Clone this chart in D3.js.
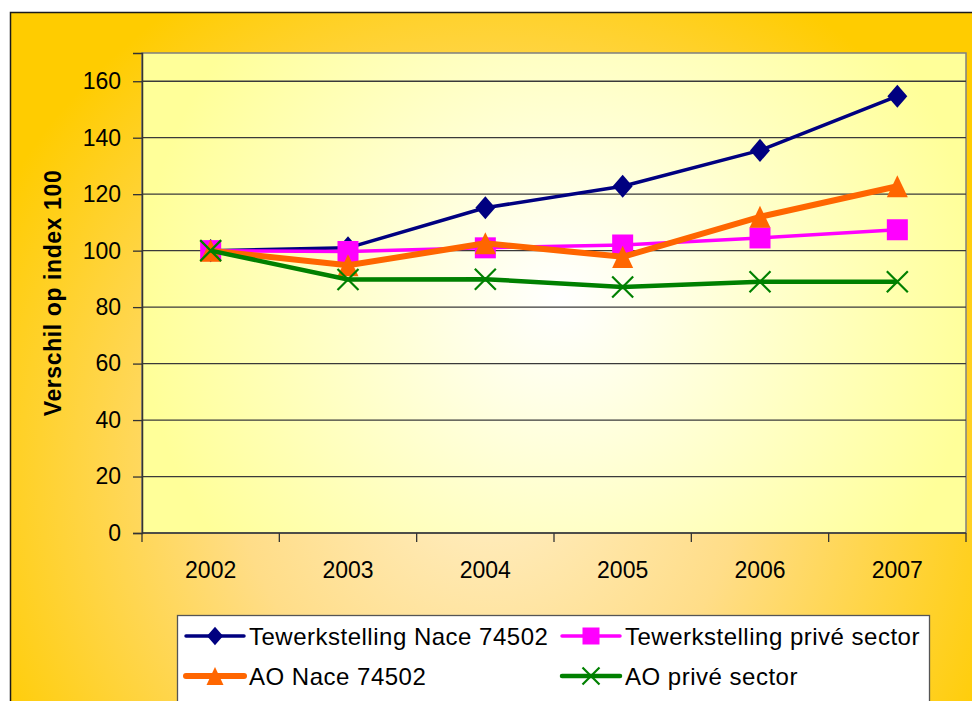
<!DOCTYPE html>
<html>
<head>
<meta charset="utf-8">
<script src="https://cdn.jsdelivr.net/npm/d3@7/dist/d3.min.js"></script>
<style>
  html, body { margin: 0; padding: 0; background: #ffffff; }
  svg { display: block; }
  text { font-family: "Liberation Sans", Arial, sans-serif; fill: #000; }
</style>
</head>
<body>
<svg id="chart" width="972" height="701"></svg>
<script>
// ---- data ----
const years = ["2002", "2003", "2004", "2005", "2006", "2007"];
const tewerkNace = [100, 101, 115.2, 122.8, 135.5, 154.7];
const tewerkPrive = [100, 99.7, 101, 102, 104.5, 107.4];
const aoNace = [100, 94.8, 102.6, 97.8, 112, 122.8];
const aoPrive = [100, 89.8, 89.9, 87.1, 89, 89];
const yTicks = [0, 20, 40, 60, 80, 100, 120, 140, 160];
const seriesNames = ["Tewerkstelling Nace 74502", "Tewerkstelling privé sector", "AO Nace 74502", "AO privé sector"];
const yTitle = "Verschil op index 100";

const series = [
  { name: seriesNames[0], values: tewerkNace, color: "#000080", width: 3.5, marker: "diamond" },
  { name: seriesNames[1], values: tewerkPrive, color: "#FF00FF", width: 3.5, marker: "square" },
  { name: seriesNames[2], values: aoNace, color: "#FF6600", width: 6, marker: "triangle" },
  { name: seriesNames[3], values: aoPrive, color: "#008000", width: 4.5, marker: "cross" }
];

(function () {
const svg = d3.select("#chart");
const defs = svg.append("defs");

const outerGrad = defs.append("radialGradient").attr("id", "outerGrad")
  .attr("gradientUnits", "userSpaceOnUse")
  .attr("cx", 490).attr("cy", 470).attr("r", 560);
outerGrad.append("stop").attr("offset", "0%").attr("stop-color", "#FFEFC8");
outerGrad.append("stop").attr("offset", "45%").attr("stop-color", "#FFDD88");
outerGrad.append("stop").attr("offset", "100%").attr("stop-color", "#FFCC00");

const plotGrad = defs.append("radialGradient").attr("id", "plotGrad")
  .attr("gradientUnits", "userSpaceOnUse")
  .attr("cx", 560).attr("cy", 300).attr("r", 420);
plotGrad.append("stop").attr("offset", "0%").attr("stop-color", "#FFFFFF");
plotGrad.append("stop").attr("offset", "100%").attr("stop-color", "#FFFF99");

// outer chart area
svg.append("rect").attr("x", 10.5).attr("y", 12.5).attr("width", 970).attr("height", 700)
  .attr("fill", "url(#outerGrad)").attr("stroke", "#1a1a1a").attr("stroke-width", 1.5);

const pL = 142, pR = 966, pT = 53, pB = 533;

const x = d3.scaleBand().domain(years).range([pL, pR]).paddingInner(0).paddingOuter(0);
const y = d3.scaleLinear().domain([0, 170]).range([pB, pT]);

// plot area
svg.append("rect").attr("x", pL).attr("y", pT).attr("width", pR - pL).attr("height", pB - pT)
  .attr("fill", "url(#plotGrad)").attr("stroke", "#808080").attr("stroke-width", 1.5);

// gridlines
svg.append("g").selectAll("line").data(yTicks.filter(d => d > 0)).join("line")
  .attr("x1", pL).attr("x2", pR)
  .attr("y1", d => y(d)).attr("y2", d => y(d))
  .attr("stroke", "#3a3a3a").attr("stroke-width", 1.3);

// y axis
const yAxis = d3.axisLeft(y).tickValues(yTicks).tickSize(9).tickPadding(12);
const gy = svg.append("g").attr("transform", `translate(${pL},0)`).call(yAxis);
gy.select(".domain").attr("stroke", "#333").attr("stroke-width", 1.5);
gy.selectAll(".tick line").attr("stroke", "#333").attr("stroke-width", 1.3);
gy.selectAll(".tick text").style("font-family", '"Liberation Sans", Arial, sans-serif')
  .style("font-size", "23px").attr("fill", "#000");

// x axis: ticks between categories
const gx = svg.append("g").attr("transform", `translate(0,${pB})`);
gx.append("line").attr("x1", pL).attr("x2", pR).attr("y1", 0).attr("y2", 0)
  .attr("stroke", "#333").attr("stroke-width", 1.5);
const boundaries = years.map(d => x(d)).concat([x(years[years.length - 1]) + x.bandwidth()]);
gx.selectAll("line.tk").data(boundaries).join("line").attr("class", "tk")
  .attr("x1", d => d).attr("x2", d => d).attr("y1", 0).attr("y2", 9)
  .attr("stroke", "#333").attr("stroke-width", 1.3);
gx.selectAll("text").data(years).join("text")
  .attr("x", d => x(d) + x.bandwidth() / 2).attr("y", 45)
  .attr("text-anchor", "middle").style("font-size", "23px").text(d => d);

// y title
svg.append("text").attr("transform", `translate(61,293) rotate(-90)`)
  .attr("text-anchor", "middle").style("font-size", "23px").style("font-weight", "bold")
  .style("letter-spacing", "0.6px")
  .text(yTitle);

// marker drawing
function drawMarker(g, type, color, s) {
  const h = s / 2;
  if (type === "diamond") {
    g.append("path").attr("d", `M0,${-h * 1.1}L${h * 0.95},0L0,${h * 1.1}L${-h * 0.95},0Z`).attr("fill", color);
  } else if (type === "square") {
    g.append("rect").attr("x", -h).attr("y", -h).attr("width", s).attr("height", s).attr("fill", color);
  } else if (type === "triangle") {
    g.append("path").attr("d", `M0,${-h * 1.05}L${h},${h * 1.05}L${-h},${h * 1.05}Z`).attr("fill", color);
  } else if (type === "cross") {
    g.append("path").attr("d", `M${-h},${-h}L${h},${h}M${h},${-h}L${-h},${h}`)
      .attr("stroke", color).attr("stroke-width", 2.2).attr("fill", "none");
  }
}

const line = d3.line().x((d, i) => x(years[i]) + x.bandwidth() / 2).y(d => y(d));

series.forEach(s => {
  const g = svg.append("g");
  g.append("path").datum(s.values).attr("d", line)
    .attr("fill", "none").attr("stroke", s.color).attr("stroke-width", s.width)
    .attr("stroke-linejoin", "round");
  s.values.forEach((v, i) => {
    const mg = g.append("g").attr("transform", `translate(${x(years[i]) + x.bandwidth() / 2},${y(v)})`);
    drawMarker(mg, s.marker, s.color, 21);
  });
});

// legend
const lg = svg.append("g");
lg.append("rect").attr("x", 177.5).attr("y", 615.5).attr("width", 752).attr("height", 100)
  .attr("fill", "#ffffff").attr("stroke", "#555").attr("stroke-width", 1.3);
const legendPos = [
  { x: 186, y: 636 }, { x: 562, y: 636 }, { x: 186, y: 676 }, { x: 562, y: 676 }
];
series.forEach((s, i) => {
  const p = legendPos[i];
  const g = lg.append("g").attr("transform", `translate(${p.x},${p.y})`);
  g.append("line").attr("x1", 0).attr("x2", 58).attr("y1", 0).attr("y2", 0)
    .attr("stroke", s.color).attr("stroke-width", s.width).attr("stroke-linecap", "round");
  const mg = g.append("g").attr("transform", "translate(29,0)");
  drawMarker(mg, s.marker, s.color, 17);
  g.append("text").attr("x", 63).attr("y", 0).attr("dy", "0.36em")
    .style("font-size", "24px").style("letter-spacing", "0.5px").text(s.name);
});
})();
</script>
</body>
</html>
